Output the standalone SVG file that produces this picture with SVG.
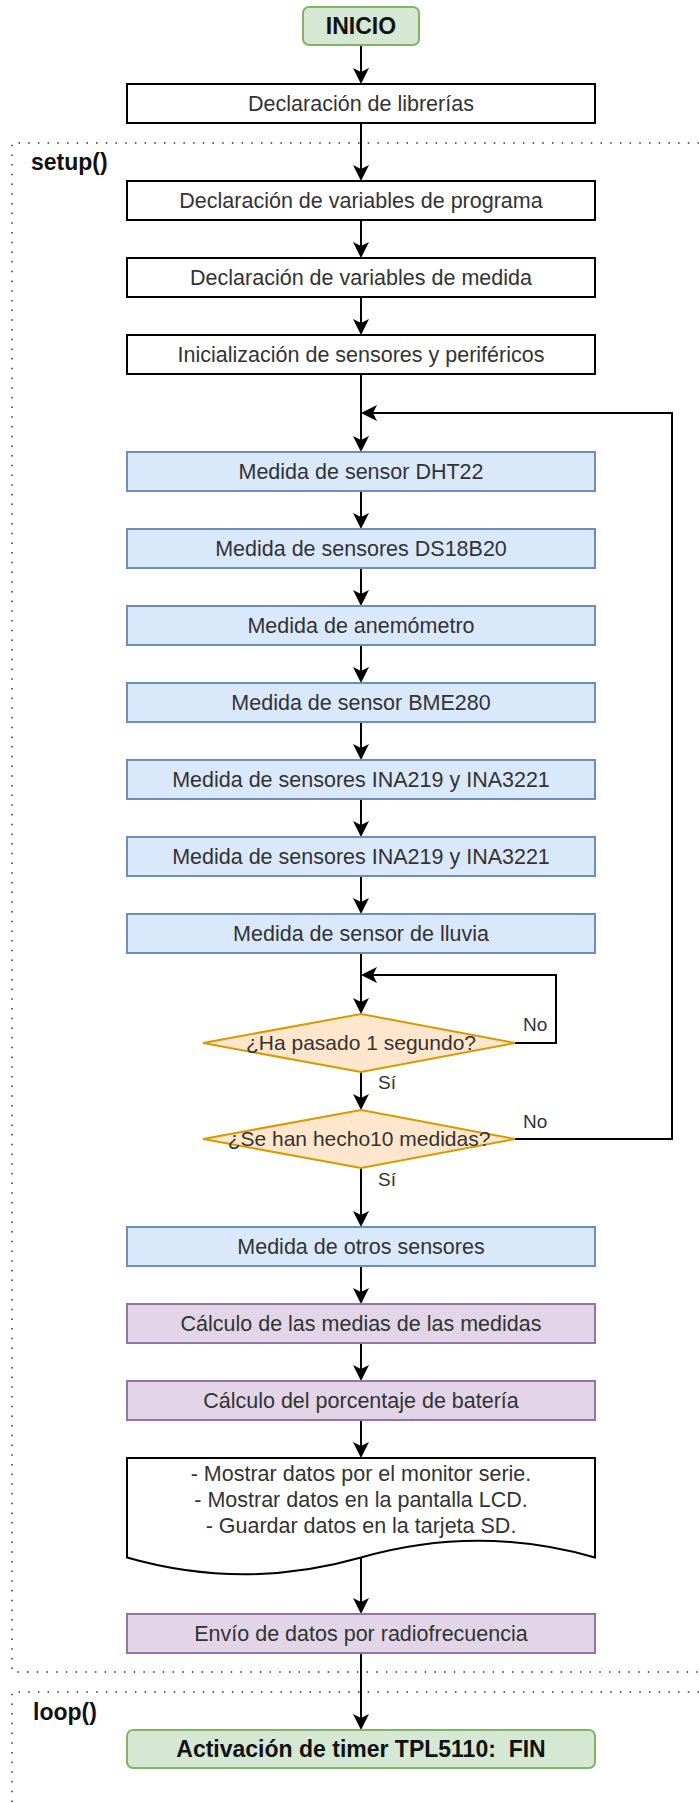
<svg xmlns="http://www.w3.org/2000/svg" width="699" height="1803" viewBox="0 0 699 1803">
<style>
.t{font-family:"Liberation Sans",Arial,sans-serif;font-size:21.5px;fill:#333;text-anchor:middle}
.d{font-family:"Liberation Sans",Arial,sans-serif;font-size:21px;fill:#333;text-anchor:middle}
.l{font-family:"Liberation Sans",Arial,sans-serif;font-size:19px;fill:#333}
.b{font-family:"Liberation Sans",Arial,sans-serif;font-size:23px;font-weight:bold;fill:#111}
.bc{text-anchor:middle;white-space:pre}
.plain{fill:#fff;stroke:#000;stroke-width:2}
.blue{fill:#dae8fc;stroke:#6c8ebf;stroke-width:2}
.purple{fill:#e1d5e7;stroke:#9673a6;stroke-width:2}
.green{fill:#d5e8d4;stroke:#82b366;stroke-width:2}
.orange{fill:#ffe6cc;stroke:#d79b00;stroke-width:2}
.dot{fill:none;stroke:#333;stroke-width:1.5;stroke-dasharray:1.5 8.2}
.c{fill:none;stroke:#000;stroke-width:2}
</style>
<defs>
<marker id="arr" markerWidth="16" markerHeight="16" viewBox="0 0 16 16" refX="12" refY="8" orient="auto" markerUnits="userSpaceOnUse">
<path d="M0,0 L16,8 L0,16 L4,8 Z" fill="#000"/>
</marker>
</defs>

<g id="containers">
<path class="dot" d="M699,143 H12 V1672 H699"/>
<path class="dot" d="M699,1692 H12 V1803"/>
<text class="b" x="31" y="170">setup()</text>
<text class="b" x="33" y="1720">loop()</text>
</g>

<g id="connectors">
<path class="c" marker-end="url(#arr)" d="M361,45 V80"/>
<path class="c" marker-end="url(#arr)" d="M361,123 V177"/>
<path class="c" marker-end="url(#arr)" d="M361,220 V254"/>
<path class="c" marker-end="url(#arr)" d="M361,297 V331"/>
<path class="c" marker-end="url(#arr)" d="M361,374 V448"/>
<path class="c" marker-end="url(#arr)" d="M361,491 V525"/>
<path class="c" marker-end="url(#arr)" d="M361,568 V602"/>
<path class="c" marker-end="url(#arr)" d="M361,645 V679"/>
<path class="c" marker-end="url(#arr)" d="M361,722 V756"/>
<path class="c" marker-end="url(#arr)" d="M361,799 V833"/>
<path class="c" marker-end="url(#arr)" d="M361,876 V910"/>
<path class="c" marker-end="url(#arr)" d="M361,953 V1010"/>
<path class="c" marker-end="url(#arr)" d="M515,1043 H556 V975 H365"/>
<path class="c" marker-end="url(#arr)" d="M361,1072 V1106"/>
<path class="c" marker-end="url(#arr)" d="M515,1139 H672 V413 H365"/>
<path class="c" marker-end="url(#arr)" d="M361,1168 V1223"/>
<path class="c" marker-end="url(#arr)" d="M361,1266 V1300"/>
<path class="c" marker-end="url(#arr)" d="M361,1343 V1377"/>
<path class="c" marker-end="url(#arr)" d="M361,1420 V1454"/>
<path class="c" marker-end="url(#arr)" d="M361,1557 V1610"/>
<path class="c" marker-end="url(#arr)" d="M361,1653 V1726"/>
<text class="l" x="523" y="1031">No</text>
<text class="l" x="378" y="1089">Sí</text>
<text class="l" x="523" y="1128">No</text>
<text class="l" x="378" y="1186">Sí</text>
</g>

<g id="inicio">
<rect class="green" x="303" y="7" width="116" height="38" rx="6"/>
<text class="b bc" x="361" y="34">INICIO</text>
</g>
<g id="librerias">
<rect class="plain" x="127" y="84" width="468" height="39"/>
<text class="t" x="361" y="111">Declaración de librerías</text>
</g>
<g id="var-programa">
<rect class="plain" x="127" y="181" width="468" height="39"/>
<text class="t" x="361" y="208">Declaración de variables de programa</text>
</g>
<g id="var-medida">
<rect class="plain" x="127" y="258" width="468" height="39"/>
<text class="t" x="361" y="285">Declaración de variables de medida</text>
</g>
<g id="inicializacion">
<rect class="plain" x="127" y="335" width="468" height="39"/>
<text class="t" x="361" y="362">Inicialización de sensores y periféricos</text>
</g>
<g id="dht22">
<rect class="blue" x="127" y="452" width="468" height="39"/>
<text class="t" x="361" y="479">Medida de sensor DHT22</text>
</g>
<g id="ds18b20">
<rect class="blue" x="127" y="529" width="468" height="39"/>
<text class="t" x="361" y="556">Medida de sensores DS18B20</text>
</g>
<g id="anemometro">
<rect class="blue" x="127" y="606" width="468" height="39"/>
<text class="t" x="361" y="633">Medida de anemómetro</text>
</g>
<g id="bme280">
<rect class="blue" x="127" y="683" width="468" height="39"/>
<text class="t" x="361" y="710">Medida de sensor BME280</text>
</g>
<g id="ina1">
<rect class="blue" x="127" y="760" width="468" height="39"/>
<text class="t" x="361" y="787">Medida de sensores INA219 y INA3221</text>
</g>
<g id="ina2">
<rect class="blue" x="127" y="837" width="468" height="39"/>
<text class="t" x="361" y="864">Medida de sensores INA219 y INA3221</text>
</g>
<g id="lluvia">
<rect class="blue" x="127" y="914" width="468" height="39"/>
<text class="t" x="361" y="941">Medida de sensor de lluvia</text>
</g>
<g id="segundo">
<polygon class="orange" points="361,1014 515,1043 361,1072 203,1043"/>
<text class="d" x="361" y="1050">¿Ha pasado 1 segundo?</text>
</g>
<g id="diez">
<polygon class="orange" points="361,1110 515,1139 361,1168 203,1139"/>
<text class="d" x="359" y="1146">¿Se han hecho10 medidas?</text>
</g>
<g id="otros">
<rect class="blue" x="127" y="1227" width="468" height="39"/>
<text class="t" x="361" y="1254">Medida de otros sensores</text>
</g>
<g id="medias">
<rect class="purple" x="127" y="1304" width="468" height="39"/>
<text class="t" x="361" y="1331">Cálculo de las medias de las medidas</text>
</g>
<g id="bateria">
<rect class="purple" x="127" y="1381" width="468" height="39"/>
<text class="t" x="361" y="1408">Cálculo del porcentaje de batería</text>
</g>
<g id="mostrar">
<path class="plain" d="M127,1458 H595 V1557.5 Q478,1524 361,1557.5 Q244,1591 127,1557.5 Z"/>
<text class="t" x="361" y="1481">- Mostrar datos por el monitor serie.</text>
<text class="t" x="361" y="1507">- Mostrar datos en la pantalla LCD.</text>
<text class="t" x="361" y="1533">- Guardar datos en la tarjeta SD.</text>
</g>
<g id="envio">
<rect class="purple" x="127" y="1614" width="468" height="39"/>
<text class="t" x="361" y="1641">Envío de datos por radiofrecuencia</text>
</g>
<g id="fin">
<rect class="green" x="127" y="1730" width="468" height="38" rx="6"/>
<text class="b bc" x="361" y="1757">Activación de timer TPL5110:  FIN</text>
</g>
</svg>
